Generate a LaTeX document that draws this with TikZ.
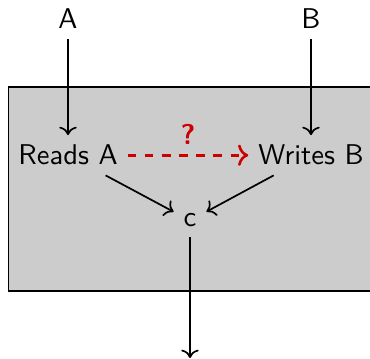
\documentclass[tikz,border=0pt]{standalone}
\usepackage{fontspec}
\usetikzlibrary{arrows.meta}
\definecolor{boxgray}{RGB}{204,204,204}
\definecolor{qred}{RGB}{204,0,0}
\begin{document}
\begin{tikzpicture}[x=0.35pt,y=-0.35pt,
  every node/.style={font=\sffamily},
  lbl/.style={anchor=base},
  conn/.style={draw=black,line width=0.6pt,->},
  maybe/.style={draw=qred,line width=0.9pt,dashed,->},
  qlabel/.style={text=qred,font=\sffamily\bfseries}]
\useasboundingbox (0,0) rectangle (370,359);
\filldraw[fill=boxgray,draw=black,line width=0.6pt] (8.5,87) rectangle (380,291);
\node[lbl] (a) at (68,29) {A};
\node[lbl] (b) at (311,29) {B};
\node[lbl] (r) at (68,165) {Reads A};
\node[lbl] (w) at (311,165) {Writes B};
\node[lbl] (c) at (190,227) {c};
\coordinate (out) at (190,358);
\draw[conn] (a) -- (r);
\draw[conn] (b) -- (w);
\draw[conn] (r) -- (c);
\draw[conn] (w) -- (c);
\draw[conn] (c) -- (out);
\draw[maybe] (r) -- node[above,qlabel] {?} (w);
\end{tikzpicture}
\end{document}
